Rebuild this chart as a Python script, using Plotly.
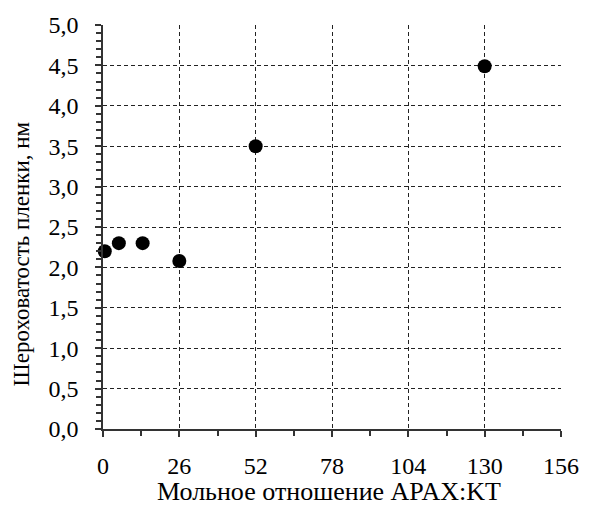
import plotly.graph_objects as go

ratio = [0.6, 5.4, 13.5, 26, 52, 130]
roughness = [2.2, 2.3, 2.3, 2.08, 3.5, 4.49]
x_ticks = [0, 26, 52, 78, 104, 130, 156]
y_ticks = [0, 0.5, 1.0, 1.5, 2.0, 2.5, 3.0, 3.5, 4.0, 4.5, 5.0]
x_title = "Мольное отношение APAX:KT"
y_title = "Шероховатость пленки, нм"

font = "Liberation Serif, Times New Roman, serif"
axis_col = "#333333"

W, H = 591, 510
L, R, T, B = 103, 22, 25, 81
pw, ph = W - L - R, H - T - B

fig = go.Figure()
fig.add_trace(go.Scatter(
    x=ratio, y=roughness, mode="markers",
    marker=dict(color="black", size=14, line=dict(width=0)),
    showlegend=False, cliponaxis=False,
))

fig.update_layout(
    width=W, height=H,
    margin=dict(l=L, r=R, t=T, b=B),
    plot_bgcolor="white", paper_bgcolor="white",
    separators=", ",
    font=dict(family=font, size=24, color="black"),
)
fig.update_xaxes(
    range=[0, 156], tickvals=x_ticks, ticktext=[str(v) for v in x_ticks],
    showline=True, linecolor=axis_col, linewidth=1.5,
    ticks="outside", ticklen=6, tickcolor=axis_col, tickwidth=1.5,
    ticklabelstandoff=8,
    showgrid=True, gridcolor="#222", griddash="4px,3px", gridwidth=1,
    zeroline=False, mirror=False,
    minor=dict(ticks="outside", dtick=13, ticklen=5, tickcolor=axis_col, tickwidth=1.5, showgrid=False),
    tickfont=dict(family=font, size=24),
)
fig.update_yaxes(
    range=[0, 5.0], tickvals=y_ticks, tickformat=".1f",
    showline=True, linecolor=axis_col, linewidth=1.5,
    ticks="outside", ticklen=6, tickcolor=axis_col, tickwidth=1.5,
    ticklabelstandoff=12,
    showgrid=True, gridcolor="#222", griddash="4px,3px", gridwidth=1,
    zeroline=False,
    minor=dict(ticks="outside", dtick=0.1, ticklen=5, tickcolor=axis_col, tickwidth=1.5, showgrid=False),
    tickfont=dict(family=font, size=24),
)

# axis titles placed as annotations (pixel positions converted to paper coords)
fig.add_annotation(
    text=x_title, xref="paper", yref="paper",
    x=(333 - L) / pw, y=(H - B - 492) / ph,
    xanchor="center", yanchor="middle", showarrow=False,
    font=dict(family=font, size=26, color="black"),
)
fig.add_annotation(
    text=y_title, xref="paper", yref="paper",
    x=(20 - L) / pw, y=(H - B - 254) / ph,
    xanchor="center", yanchor="middle", showarrow=False, textangle=-90,
    font=dict(family=font, size=23, color="black"),
)

fig.write_html("out.html")
